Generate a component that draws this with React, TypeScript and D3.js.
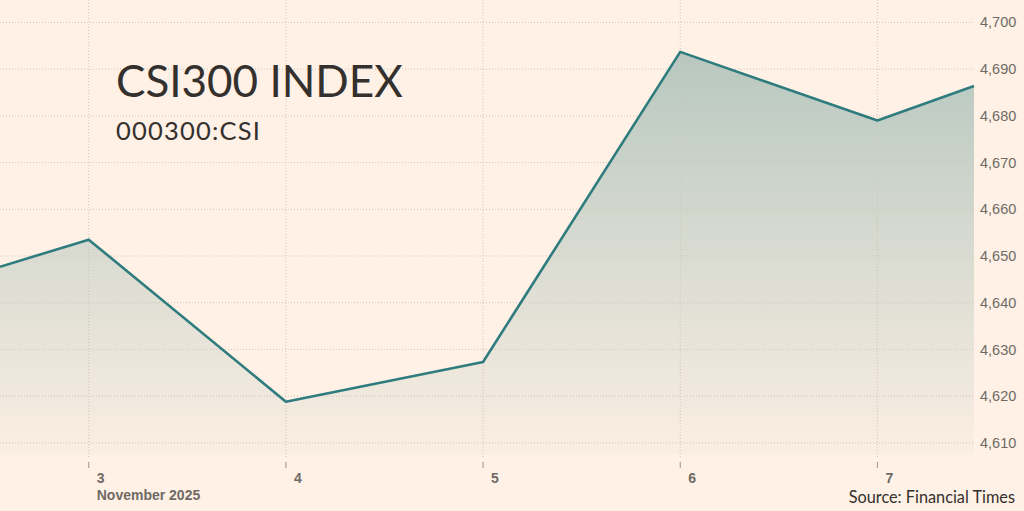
import React from "react";
import * as d3 from "d3";

// Data: x = day of November 2025 (fractional at chart edges)
const days = [2.55, 3, 4, 5, 6, 7, 7.49];
const values = [4647.7, 4653.5, 4618.8, 4627.3, 4693.7, 4679.0, 4686.4];
const yTicks = [4610, 4620, 4630, 4640, 4650, 4660, 4670, 4680, 4690, 4700];
const xTicks = [3, 4, 5, 6, 7];
const xDomain = [2.55, 7.49];
const yDomain = [4607.4, 4704.8];
const title = "CSI300 INDEX";
const subtitle = "000300:CSI";
const monthLabel = "November 2025";
const source = "Source: Financial Times";

const W = 1024;
const H = 511;
const plotRight = 974;
const plotBottom = 455;

export default function App() {
  const x = d3.scaleLinear().domain(xDomain).range([0, plotRight]);
  const y = d3.scaleLinear().domain(yDomain).range([plotBottom, 0]);
  const pts = days.map((d, i) => ({ d, v: values[i] }));
  const line = d3.line<any>().x((p) => x(p.d)).y((p) => y(p.v));
  const area = d3
    .area<any>()
    .x((p) => x(p.d))
    .y0(plotBottom)
    .y1((p) => y(p.v));
  const grid = "#cfc4ba";
  const axisCol = "#6f6a66";
  return (
    <svg
      width={W}
      height={H}
      style={{ position: "absolute", left: 0, top: 0, background: "#fff1e5" }}
    >
      <defs>
        <linearGradient id="fillGrad" gradientUnits="userSpaceOnUse" x1="0" y1={y(4700)} x2="0" y2={plotBottom}>
          <stop offset="0%" stopColor="#2a7676" stopOpacity={0.36} />
          <stop offset="100%" stopColor="#2a7676" stopOpacity={0.02} />
        </linearGradient>
      </defs>
      <rect x={0} y={0} width={W} height={H} fill="#fff1e5" />
      <path d={area(pts) || ""} fill="url(#fillGrad)" />
      {yTicks.map((t) => (
        <g key={t}>
          <line x1={0} x2={plotRight} y1={y(t)} y2={y(t)} stroke={grid} strokeDasharray="1,2" />
          <text
            x={plotRight + 6}
            y={y(t)}
            dy="0.35em"
            fontFamily="'Liberation Sans', Arial, sans-serif"
            fontSize={14.5}
            fill={axisCol}
          >
            {d3.format(",")(t)}
          </text>
        </g>
      ))}
      {xTicks.map((t) => (
        <g key={t}>
          <line x1={x(t)} x2={x(t)} y1={0} y2={plotBottom + 3} stroke={grid} strokeDasharray="1,2" />
          <line x1={x(t)} x2={x(t)} y1={plotBottom + 7} y2={plotBottom + 13} stroke="#9a948f" strokeWidth={1} />
          <text
            x={x(t) + 8}
            y={plotBottom + 28}
            fontFamily="'Liberation Sans', Arial, sans-serif"
            fontSize={14}
            fontWeight={600}
            fill={axisCol}
          >
            {t}
          </text>
        </g>
      ))}
      <text
        x={x(xTicks[0]) + 8}
        y={plotBottom + 45}
        fontFamily="'Liberation Sans', Arial, sans-serif"
        fontSize={14}
        fontWeight={600}
        fill={axisCol}
      >
        {monthLabel}
      </text>
      <path d={line(pts) || ""} fill="none" stroke="#2e7c7e" strokeWidth={2.6} strokeLinejoin="round" />
      <text x={116} y={97} fontFamily="Lato, sans-serif" fontSize={44} fill="#33302e">
        {title}
      </text>
      <text x={116} y={140} fontFamily="Lato, sans-serif" fontSize={25.5} letterSpacing={1.2} fill="#33302e">
        {subtitle}
      </text>
      <text x={1015} y={503} textAnchor="end" fontFamily="Lato, sans-serif" fontSize={16.3} fill="#33302e">
        {source}
      </text>
    </svg>
  );
}
